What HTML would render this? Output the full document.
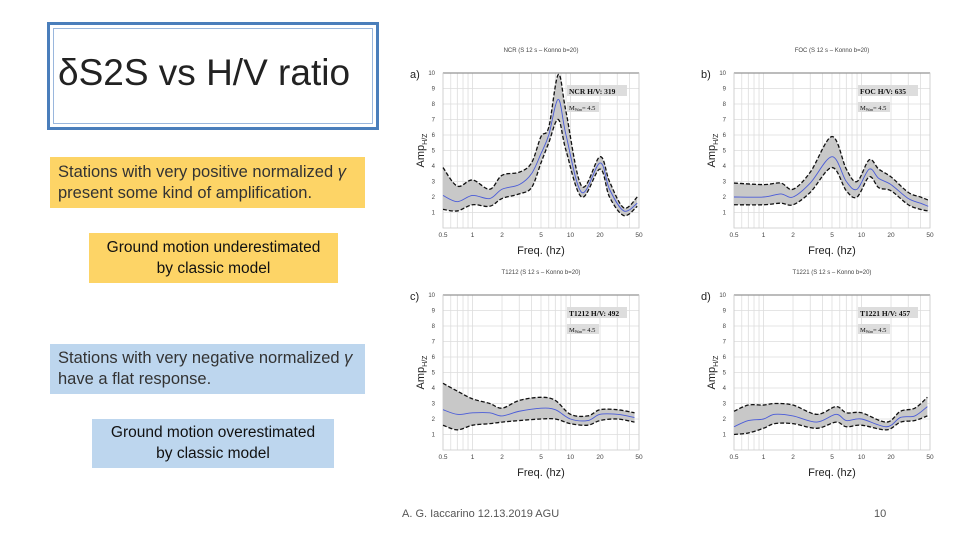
<!DOCTYPE html>
<html><head><meta charset="utf-8">
<style>
body{margin:0;width:960px;height:540px;background:#fff;overflow:hidden;position:relative;font-family:"Liberation Sans",sans-serif}
.box{position:absolute;box-sizing:border-box;font-family:"Liberation Sans",sans-serif}
</style></head><body>
<div class="box" style="left:47px;top:22px;width:332px;height:108px;border:3px solid #4a7ebb;outline:1px solid #9ab7dd;outline-offset:-7px"></div>
<div class="box" style="left:58px;top:52px;font-size:37px;color:#222;white-space:nowrap">δS2S vs H/V ratio</div>
<div class="box" style="left:50px;top:157px;width:315px;height:51px;background:#fdd466;font-size:16.5px;color:#333;padding:5px 0 0 8px;line-height:21px;white-space:nowrap">Stations with very positive normalized <i>γ</i><br>present some kind of amplification.</div>
<div class="box" style="left:89px;top:233px;width:249px;height:50px;background:#fdd466;font-size:15.5px;color:#111;text-align:center;padding-top:4px;line-height:21px;white-space:nowrap">Ground motion underestimated<br>by classic model</div>
<div class="box" style="left:50px;top:344px;width:315px;height:50px;background:#bdd6ee;font-size:16.5px;color:#333;padding:4px 0 0 8px;line-height:21px;white-space:nowrap">Stations with very negative normalized <i>γ</i><br>have a flat response.</div>
<div class="box" style="left:92px;top:419px;width:242px;height:49px;background:#bdd6ee;font-size:15.5px;color:#111;text-align:center;padding-top:3px;line-height:21px;white-space:nowrap">Ground motion overestimated<br>by classic model</div>
<div class="box" style="left:402px;top:508px;font-size:11px;color:#555">A. G. Iaccarino 12.13.2019 AGU</div>
<div class="box" style="left:874px;top:508px;font-size:11px;color:#555">10</div>
<svg id="charts" width="960" height="540" style="position:absolute;left:0;top:0"></svg>
<script>
const titles=["NCR (S 12 s – Konno b=20)","FOC (S 12 s – Konno b=20)","T1212 (S 12 s – Konno b=20)","T1221 (S 12 s – Konno b=20)"];
const labels=["a)","b)","c)","d)"];
const stationTags=["NCR H/V: 319","FOC H/V: 635","T1212 H/V: 492","T1221 H/V: 457"];
const yTicks=[1,2,3,4,5,6,7,8,9,10];
const xTicks=[0.5,1,2,5,10,20,50];
const freqA=[0.5,0.7,1,1.5,2,3,4,5,6,7.5,9,13,20,25,35,48];
const meanA=[2.1,1.7,2.1,1.9,2.5,2.8,3.5,4.8,6.0,8.3,6.0,2.3,4.2,2.5,1.1,1.6];
const upA=[3.9,2.7,3.1,2.5,3.4,3.6,4.2,5.9,6.5,9.9,7.5,2.7,4.6,3.0,1.3,2.0];
const loA=[1.2,1.1,1.5,1.4,1.9,2.2,2.6,4.2,5.5,7.0,5.0,2.0,3.8,2.0,0.8,1.4];
const freqB=[0.5,1,1.5,2,3,5,7,9,12,15,20,30,40,48];
const meanB=[2.0,2.0,2.2,2.0,2.9,4.6,3.0,2.5,3.8,3.2,2.8,1.9,1.6,1.4];
const upB=[2.9,2.8,2.9,2.5,3.6,5.9,3.8,3.0,4.4,3.8,3.3,2.3,2.0,1.8];
const loB=[1.5,1.5,1.6,1.5,2.3,3.9,2.4,2.0,3.3,2.6,2.4,1.5,1.2,1.1];
const freqC=[0.5,0.7,1,1.5,2,3,5,7,10,15,20,30,45];
const meanC=[2.6,2.3,2.4,2.4,2.2,2.5,2.7,2.6,2.0,1.9,2.3,2.3,2.1];
const upC=[4.3,3.8,3.3,3.0,2.7,3.2,3.4,3.2,2.3,2.2,2.6,2.6,2.4];
const loC=[1.6,1.3,1.6,1.7,1.8,1.9,2.0,2.0,1.7,1.6,1.9,2.0,1.8];
const freqD=[0.5,0.7,1,1.3,2,3.5,5.5,7,10,18,25,35,47];
const meanD=[1.5,1.9,2.0,2.3,2.2,1.8,2.3,1.9,2.0,1.5,2.1,2.2,2.8];
const upD=[2.5,2.9,2.9,3.0,2.9,2.3,2.8,2.4,2.4,1.8,2.5,2.7,3.4];
const loD=[1.0,1.1,1.4,1.7,1.7,1.4,1.8,1.5,1.6,1.3,1.8,1.9,2.2];
const series=[[freqA,meanA,upA,loA],[freqB,meanB,upB,loB],[freqC,meanC,upC,loC],[freqD,meanD,upD,loD]];
const svg=document.getElementById('charts');const NS='http://www.w3.org/2000/svg';
function mk(t,a,p){const e=document.createElementNS(NS,t);for(const k in a)e.setAttribute(k,a[k]);(p||svg).appendChild(e);return e;}
function smooth(P,start){let d=(start?'M':'L')+P[0][0]+','+P[0][1];
 for(let k=0;k<P.length-1;k++){const p0=P[Math.max(k-1,0)],p1=P[k],p2=P[k+1],p3=P[Math.min(k+2,P.length-1)];
  const c1=[p1[0]+(p2[0]-p0[0])/6,p1[1]+(p2[1]-p0[1])/6],c2=[p2[0]-(p3[0]-p1[0])/6,p2[1]-(p3[1]-p1[1])/6];
  d+=` C${c1[0]},${c1[1]} ${c2[0]},${c2[1]} ${p2[0]},${p2[1]}`;}
 return d;}
const offs=[[0,0],[291,0],[0,222],[291,222]];
offs.forEach((o,i)=>{
 const x0=443+o[0],x1=639+o[0],yTop=73+o[1],yBot=228+o[1];
 const xs=f=>x0+(Math.log10(f)-Math.log10(0.5))/2*(x1-x0);
 const ys=v=>yBot-v*(yBot-yTop)/10;
 const g=mk('g',{});
 
 
 const minors=[0.5,0.6,0.7,0.8,0.9,1,2,3,4,5,6,7,8,9,10,20,30,40,50];
 minors.forEach(f=>mk('line',{x1:xs(f),x2:xs(f),y1:yTop,y2:yBot,stroke:'#ddd','stroke-width':0.8},g));
 yTicks.forEach(v=>mk('line',{x1:x0,x2:x1,y1:ys(v),y2:ys(v),stroke:'#ddd','stroke-width':0.8},g));
 mk('line',{x1:x0,x2:x1,y1:yTop,y2:yTop,stroke:'#333','stroke-width':1.2},g);
 mk('rect',{x:x0,y:yTop,width:x1-x0,height:yBot-yTop,fill:'none',stroke:'#ccc','stroke-width':0.8},g);
 const [F,M,U,L]=series[i];
 const PU=F.map((f,k)=>[xs(f),ys(U[k])]),PL=F.map((f,k)=>[xs(f),ys(L[k])]),PM=F.map((f,k)=>[xs(f),ys(M[k])]);
 const b=mk('path',{d:smooth(PU,true)+' '+smooth(PL.slice().reverse(),false)+'Z',fill:'#c8c8c8',stroke:'none'},g);
 
 
 [PU,PL].forEach(P=>{const l=mk('path',{d:smooth(P,true),fill:'none',stroke:'#111','stroke-width':1.3,'stroke-dasharray':'4,2'},g);
  
  });
 const ml=mk('path',{d:smooth(PM,true),fill:'none',stroke:'#4a5bd8','stroke-width':0.9},g);
 
 
 yTicks.forEach(v=>{const t=mk('text',{x:x0-8,y:ys(v)+2,'font-size':6,'text-anchor':'end',fill:'#444'},g);t.textContent=v;});
 xTicks.forEach(f=>{const t=mk('text',{x:xs(f),y:yBot+9,'font-size':6.5,'text-anchor':'middle',fill:'#444'},g);t.textContent=f;});
 const tt=mk('text',{x:(x0+x1)/2,y:yTop-21,'font-size':6,'text-anchor':'middle',fill:'#444'},g);tt.textContent=titles[i];
 const lb=mk('text',{x:x0-33,y:yTop+5,'font-size':11,fill:'#222'},g);lb.textContent=labels[i];
 const xl=mk('text',{x:(x0+x1)/2,y:yBot+26,'font-size':11,'text-anchor':'middle',fill:'#222'},g);xl.textContent='Freq. (hz)';
 const yl=mk('text',{x:0,y:0,'font-size':11,'text-anchor':'middle',fill:'#222',transform:`translate(${x0-19},${(yTop+yBot)/2}) rotate(-90)`},g);yl.textContent='Amp';
 const sub=mk('tspan',{'font-size':7,dy:3},yl);sub.textContent='H/Z';
 mk('rect',{x:x0+124,y:yTop+12,width:60,height:11,fill:'#ddd'},g);
 const st=mk('text',{x:x0+126,y:yTop+21,'font-size':7.5,'font-weight':'bold','font-family':'Liberation Serif',fill:'#111'},g);st.textContent=stationTags[i];
 mk('rect',{x:x0+124,y:yTop+29,width:32,height:10,fill:'#ddd'},g);
 const mw=mk('text',{x:x0+126,y:yTop+37,'font-size':6.5,'font-family':'Liberation Serif',fill:'#111'},g);mw.textContent='M';
 const ms=mk('tspan',{'font-size':4,dy:1},mw);ms.textContent='Wan';
 const mv=mk('tspan',{'font-size':6.5,dy:-1},mw);mv.textContent='= 4.5';
});
</script>
</body></html>
